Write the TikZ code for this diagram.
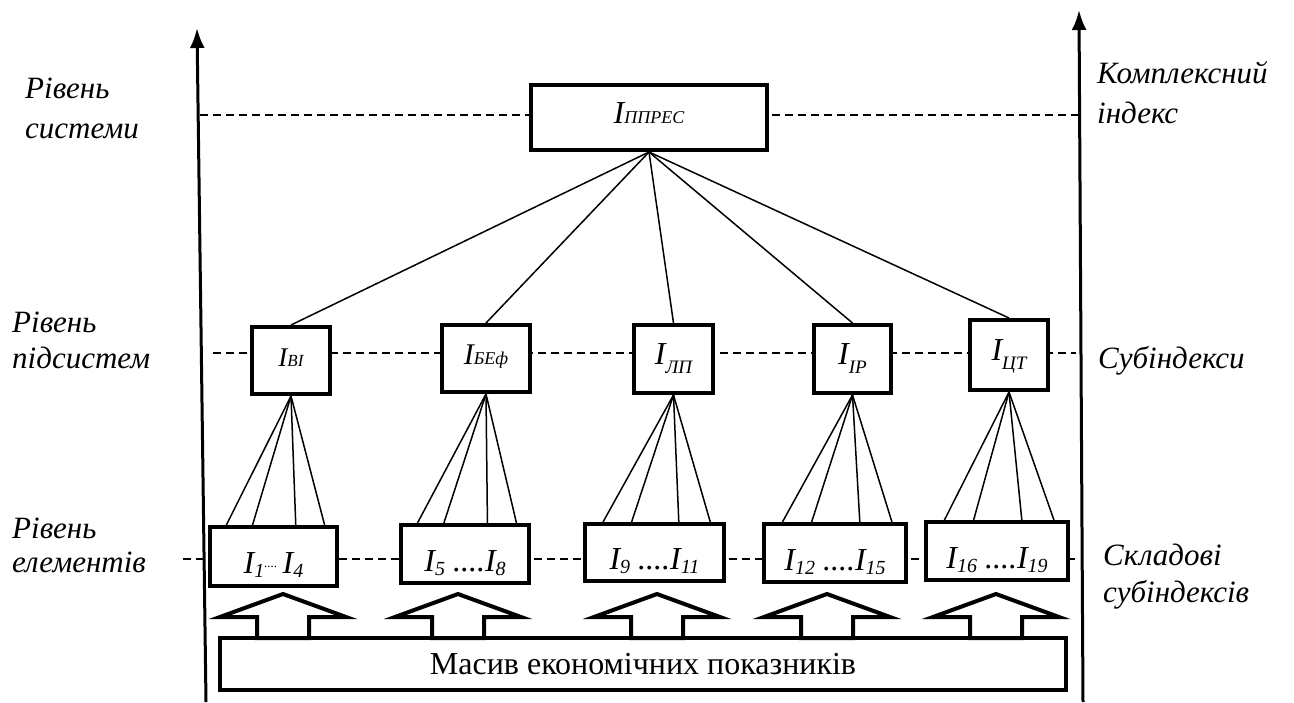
\documentclass[tikz,border=0pt]{standalone}
\usepackage{fontspec}
\setmainfont{Liberation Serif}
\usetikzlibrary{arrows.meta,calc}
\newcommand{\lsub}[3]{\raisebox{-#1}{\fontsize{#2}{#2}\selectfont #3}}
\begin{document}
\begin{tikzpicture}[x=1pt,y=-1pt,
  box/.style={draw, line width=4pt, fill=white, inner sep=0pt, font=\fontsize{32}{32}\selectfont\itshape},
  lab/.style={font=\fontsize{31}{36}\selectfont\itshape, align=left, inner sep=0pt, anchor=base west},
  dashln/.style={line width=1.5pt, dash pattern=on 8pt off 5pt},
  fan/.style={line width=1.5pt},
  axisln/.style={line width=3pt, -{Latex[length=20pt,width=15pt]}},
  blk/.style={line width=4pt, fill=white, line join=miter}]
\useasboundingbox (0,0) rectangle (1294,702);

% axes
\coordinate (la0) at (206,702);
\coordinate (la1) at (197,28);
\coordinate (ra0) at (1083,702);
\coordinate (ra1) at (1079,10);
\draw[axisln] (la0) -- (la1);
\draw[axisln] (ra0) -- (ra1);

% dashed level lines
\coordinate (d1l) at (200,115);
\coordinate (d1r) at (1080,115);
\coordinate (d2l) at (213,353);
\coordinate (d2r) at (1076,353);
\coordinate (d3l) at (183,559);
\coordinate (d3r) at (1078,559);
\draw[dashln] (d1l) -- (d1r);
\draw[dashln] (d2l) -- (d2r);
\draw[dashln] (d3l) -- (d3r);

% top
\node[box, minimum width=236pt, minimum height=65pt, text height=22pt, text depth=11pt] (top) at (649,117.5) {I\lsub{0pt}{18}{ППРЕС}};

% subsystems
\tikzset{sbox/.style={box, text height=24pt, text depth=13pt}}
\node[sbox, minimum width=78pt, minimum height=67pt, font=\fontsize{27}{27}\selectfont\itshape] (s1) at (291,360.5) {I\lsub{0pt}{17}{ВІ}};
\node[sbox, minimum width=88pt, minimum height=67pt, font=\fontsize{30}{30}\selectfont\itshape] (s2) at (486,358.5) {I\lsub{0pt}{18}{БЕф}};
\node[sbox, minimum width=79pt, minimum height=68pt] (s3) at (673.5,359) {I\lsub{9pt}{19}{ЛП}};
\node[sbox, minimum width=77pt, minimum height=68pt] (s4) at (852.5,359) {I\lsub{9pt}{19}{ІР}};
\node[sbox, minimum width=78pt, minimum height=70pt] (s5) at (1009,355) {I\lsub{9pt}{19}{ЦТ}};

% elements
\tikzset{ebox/.style={box, text height=40pt, text depth=6pt}}
\node[ebox, minimum width=127pt, minimum height=59pt] (e1) at (273.5,556.5) {I\lsub{4pt}{20}{1}\raisebox{6pt}{\fontsize{13}{13}\selectfont....}\,I\lsub{4pt}{20}{4}};
\node[ebox, minimum width=128pt, minimum height=58pt] (e2) at (465,554) {I\lsub{4pt}{20}{5} ....I\lsub{4pt}{20}{8}};
\node[ebox, minimum width=139pt, minimum height=57pt] (e3) at (654.5,552.5) {I\lsub{4pt}{20}{9} ....I\lsub{4pt}{20}{11}};
\node[ebox, minimum width=142pt, minimum height=58pt] (e4) at (835,553) {I\lsub{4pt}{20}{12} ....I\lsub{4pt}{20}{15}};
\node[ebox, minimum width=142pt, minimum height=58pt] (e5) at (997,551) {I\lsub{4pt}{20}{16} ....I\lsub{4pt}{20}{19}};

% bottom array
\node[box, minimum width=846pt, minimum height=52pt, font=\fontsize{32}{32}\selectfont] (m) at (643,664) {Масив економічних показників};

% block arrows
\foreach \x in {283,458,657,827,996}
  \draw[blk] ({\x-26},638) -- ({\x-26},617) -- ({\x-63},617) -- (\x,594) -- ({\x+63},617) -- ({\x+26},617) -- ({\x+26},638) -- cycle;

% fans from top
\foreach \s in {s1,s2,s3,s4,s5}
  \draw[fan] (top.south) -- (\s.north);

% fans from subsystems
\foreach \s/\e in {s1/e1,s2/e2,s3/e3,s4/e4,s5/e5}
  \foreach \f in {0.14,0.34,0.67,0.89}
    \draw[fan] (\s.south) -- ($(\e.north west)!\f!(\e.north east)$);

% labels (anchored at the baseline of the last line)
\node[lab] (l1) at (25,138) {Рівень\\[4pt]системи};
\node[lab] (l2) at (12,368) {Рівень\\підсистем};
\node[lab] (l3) at (12,572) {Рівень\\[-2pt]елементів};
\node[lab] (r1) at (1097,123) {Комплексний\\[4pt]індекс};
\node[lab] (r2) at (1098,368) {Субіндекси};
\node[lab] (r3) at (1103,602) {Складові\\[1pt]субіндексів};
\end{tikzpicture}
\end{document}
